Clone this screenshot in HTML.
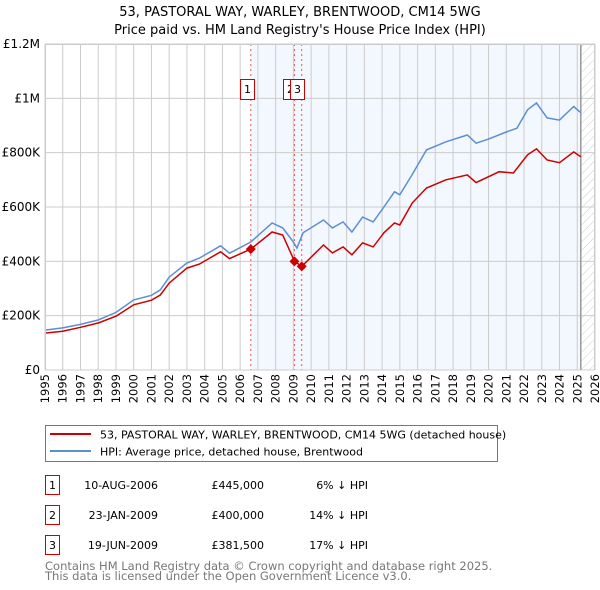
<!DOCTYPE html>
<html><head><meta charset="utf-8"><style>
body{margin:0;background:#fff}
svg{display:block;font-family:"DejaVu Sans","Liberation Sans",sans-serif}
</style></head><body>
<svg id="chart" width="600" height="590" viewBox="0 0 600 590" xmlns="http://www.w3.org/2000/svg">
<defs><pattern id="hatch" width="6" height="6" patternUnits="userSpaceOnUse" patternTransform="rotate(45)"><line x1="0" y1="0" x2="0" y2="6" stroke="#ccc" stroke-width="1"/></pattern></defs>
<text x="300" y="16" text-anchor="middle" font-size="13">53, PASTORAL WAY, WARLEY, BRENTWOOD, CM14 5WG</text>
<text x="300" y="34" text-anchor="middle" font-size="13">Price paid vs. HM Land Registry's House Price Index (HPI)</text>
<g id="plot"></g>
<g>
<rect x="45.5" y="425.5" width="452" height="36" fill="#fff" stroke="#777"/>
<line x1="50" y1="434" x2="91" y2="434" stroke="#cc0000" stroke-width="2"/>
<text x="100" y="438.5" font-size="11">53, PASTORAL WAY, WARLEY, BRENTWOOD, CM14 5WG (detached house)</text>
<line x1="50" y1="451" x2="91" y2="451" stroke="#5b8fd4" stroke-width="2"/>
<text x="100" y="455.5" font-size="11">HPI: Average price, detached house, Brentwood</text>
</g>
<g id="table" font-size="11"></g>
<text x="45" y="570" font-size="11.5" fill="#777">Contains HM Land Registry data © Crown copyright and database right 2025.</text>
<text x="45" y="580" font-size="11.5" fill="#777">This data is licensed under the Open Government Licence v3.0.</text>
</svg>
<script>
const hpiYears=[1995,1996,1997,1998,1999,2000,2001,2001.5,2002,2003,2003.7,2004.9,2005.4,2006.6,2007.8,2008.4,2009.0,2009.2,2009.55,2010.7,2011.2,2011.8,2012.3,2012.9,2013.5,2014.1,2014.7,2015.0,2015.7,2016.5,2017.6,2018.8,2019.3,2020.0,2021.0,2021.6,2022.2,2022.7,2023.3,2024.0,2024.8,2025.2];
const hpiValues=[147,155,168,184,212,258,275,295,342,394,412,457,430,471,541,523,471,449,505,552,523,545,508,563,545,600,656,645,720,810,840,865,835,850,876,890,958,983,928,920,970,947];
const ppYears=[1995,1996,1997,1998,1999,2000,2001,2001.5,2002,2003,2003.7,2004.9,2005.4,2006.6,2007.8,2008.4,2009.06,2009.47,2010.7,2011.2,2011.8,2012.3,2012.9,2013.5,2014.1,2014.7,2015.0,2015.7,2016.5,2017.6,2018.8,2019.3,2020.6,2021.4,2022.2,2022.7,2023.3,2024.0,2024.8,2025.2];
const ppValues=[136,143,157,173,198,240,257,276,320,375,390,435,410,445,508,497,400,381.5,460,431,453,424,468,453,505,541,534,615,670,700,718,690,730,725,792,814,773,763,803,785];
const saleYears=[2006.6,2009.06,2009.47];
const saleValues=[445,400,381.5];
const saleLabels=["1","2","3"];
const saleDates=["10-AUG-2006","23-JAN-2009","19-JUN-2009"];
const salePrices=["£445,000","£400,000","£381,500"];
const saleHpi=["6% ↓ HPI","14% ↓ HPI","17% ↓ HPI"];
const yTicks=[0,200,400,600,800,1000,1200];
const yTickLabels=["£0","£200K","£400K","£600K","£800K","£1M","£1.2M"];
const NS="http://www.w3.org/2000/svg";
const X=y=>45+(y-1995)*550/31;
const Y=v=>370-v*326/1200;
const plot=document.getElementById('plot');
function mk(t,a,p){const e=document.createElementNS(NS,t);for(const k in a)e.setAttribute(k,a[k]);(p||plot).appendChild(e);return e;}
let e;
e=mk('rect',{x:X(2006.6),y:44,width:X(2025.2)-X(2006.6),height:326,fill:'#f3f7fe'});


e=mk('rect',{x:X(2025.2),y:44,width:595-X(2025.2),height:326,fill:'url(#hatch)'});


for(let yr=1995;yr<=2026;yr++){
 e=mk('line',{x1:X(yr),x2:X(yr),y1:44,y2:370,stroke:'#ccc','stroke-width':1});
 
 
 const tx=X(yr)+4,ty=374;
 e=mk('text',{x:tx,y:ty,'text-anchor':'end','font-size':11.5,transform:`rotate(-90 ${tx} ${ty})`});
 e.textContent=yr;
 
 
}
yTicks.forEach((v,i)=>{
 e=mk('line',{x1:45,x2:595,y1:Y(v),y2:Y(v),stroke:'#ccc','stroke-width':1});
 
 
 e=mk('text',{x:40,y:Y(v)+4,'text-anchor':'end','font-size':12});
 e.textContent=yTickLabels[i];
 
 
});
e=mk('line',{x1:X(2025.2),x2:X(2025.2),y1:44,y2:370,stroke:'#999','stroke-width':1.5});


saleYears.forEach((yr,i)=>{
 e=mk('line',{x1:X(yr),x2:X(yr),y1:44,y2:370,stroke:'#e55','stroke-width':1,'stroke-dasharray':'2,3'});
 
 
});
const path=(xs,vs)=>xs.map((yr,i)=>(i?'L':'M')+X(yr).toFixed(1)+','+Y(vs[i]).toFixed(1)).join('');
e=mk('path',{d:path(hpiYears,hpiValues),fill:'none',stroke:'#5b8fd4','stroke-width':1.5});


e=mk('path',{d:path(ppYears,ppValues),fill:'none',stroke:'#cc0000','stroke-width':1.5});


saleYears.forEach((yr,i)=>{
 const cx=X(yr),cy=Y(saleValues[i]);
 e=mk('path',{d:`M${cx},${cy-5}L${cx+5},${cy}L${cx},${cy+5}L${cx-5},${cy}Z`,fill:'#cc0000'});
 
 
});
saleLabels.forEach((l,i)=>{
 const bx=[240,283,290][i];
 e=mk('rect',{x:bx+0.5,y:79.5,width:14,height:20,fill:'#fff',stroke:'#cc0000'});
 
 
 e=mk('text',{x:bx+7.5,y:93,'text-anchor':'middle','font-size':11});
 e.textContent=l;
 
 
});
e=mk('rect',{x:45.5,y:44.5,width:549,height:325.5,fill:'none',stroke:'#ccc'});


const tbl=document.getElementById('table');
saleLabels.forEach((l,i)=>{
 const y0=475+i*30;
 e=mk('rect',{x:45.5,y:y0+0.5,width:14,height:19,fill:'#fff',stroke:'#cc0000'},tbl);
 
 
 e=mk('text',{x:52.5,y:y0+14,'text-anchor':'middle'},tbl);e.textContent=l;
 
 
 e=mk('text',{x:158,y:y0+14,'text-anchor':'end'},tbl);e.textContent=saleDates[i];
 
 
 e=mk('text',{x:264,y:y0+14,'text-anchor':'end'},tbl);e.textContent=salePrices[i];
 
 
 e=mk('text',{x:368,y:y0+14,'text-anchor':'end'},tbl);e.textContent=saleHpi[i];
 
 
});
</script>
</body></html>
